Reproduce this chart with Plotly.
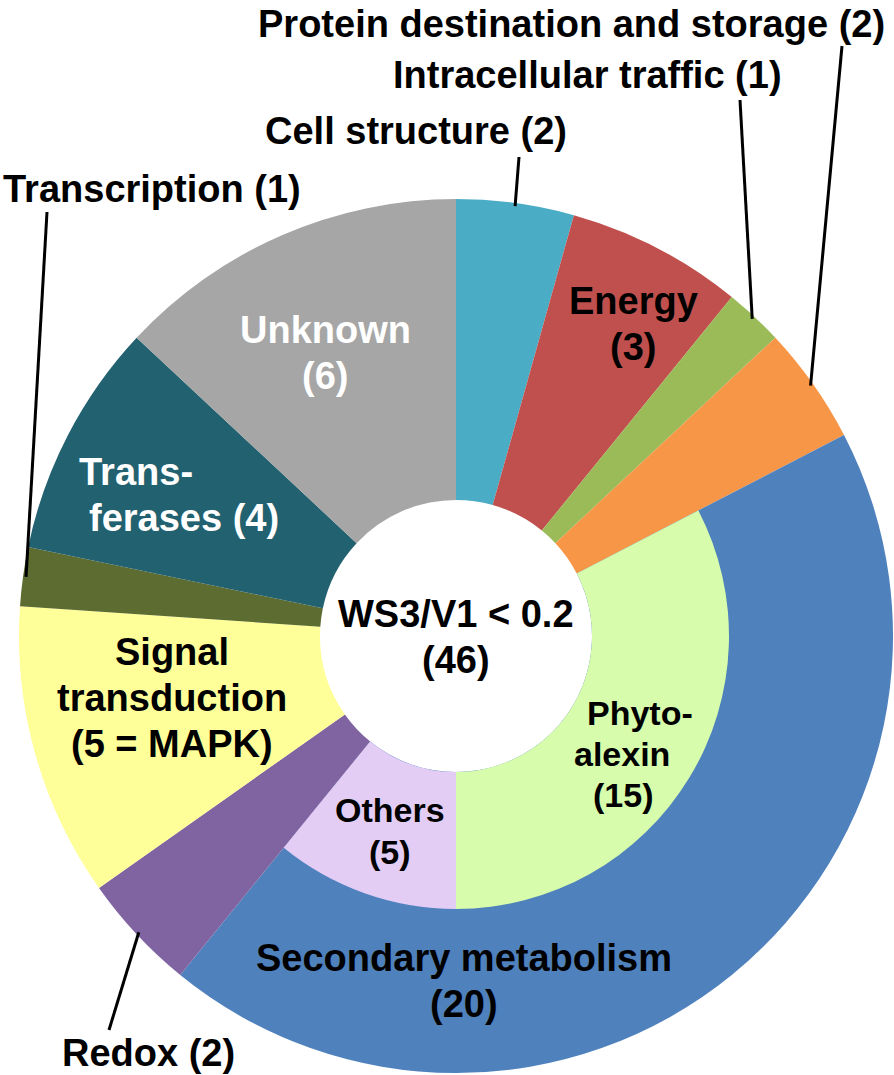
import math
import plotly.graph_objects as go

# outer ring: functional categories, clockwise from 12 o'clock
categories = ['Cell structure', 'Energy', 'Intracellular traffic',
              'Protein destination and storage', 'Secondary metabolism',
              'Redox', 'Signal transduction', 'Transcription',
              'Transferases', 'Unknown']
counts = [2, 3, 1, 2, 20, 2, 5, 1, 4, 6]
colors = ['#4BACC6', '#C0504D', '#9BBB59', '#F79646', '#4F81BD',
          '#8064A2', '#FFFF99', '#5D6C31', '#22616F', '#A6A6A6']

# inner ring: split of secondary metabolism
sub_categories = ['Phytoalexin', 'Others']
sub_counts = [15, 5]
sub_colors = ['#D7FCAB', '#E3CDF5']

W, H = 894, 1075
CX, CY = 456, 636          # pie centre in pixels
R_OUT, R_MID, R_HOLE = 437, 273, 136
FONT = 'Liberation Sans, Arial, sans-serif'
total = sum(counts)
sec = categories.index('Secondary metabolism')


def px(x, y):
    return x / W, 1 - y / H


def domain(r):
    return dict(x=[(CX - r) / W, (CX + r) / W],
                y=[1 - (CY + r) / H, 1 - (CY - r) / H])


def edge_point(i, r):
    cum = sum(counts[:i]) + counts[i] / 2
    th = 2 * math.pi * cum / total
    return CX + r * math.sin(th), CY - r * math.cos(th)


fig = go.Figure()
fig.add_trace(go.Pie(
    labels=categories, values=counts, sort=False, direction='clockwise',
    rotation=0, hole=R_HOLE / R_OUT, textinfo='none', showlegend=False,
    marker=dict(colors=colors, line=dict(width=0)), domain=domain(R_OUT),
))

before = sum(counts[:sec])
after = total - before - counts[sec]
fig.add_trace(go.Pie(
    labels=['_before'] + sub_categories + ['_after'],
    values=[before] + sub_counts + [after], sort=False,
    direction='clockwise', rotation=0, hole=R_HOLE / R_MID,
    textinfo='none', showlegend=False,
    marker=dict(colors=['rgba(0,0,0,0)'] + sub_colors + ['rgba(0,0,0,0)'],
                line=dict(width=0)),
    domain=domain(R_MID),
))

annotations = []


def label(lines, xs, y0, color='black', step=46, size=38):
    if not isinstance(xs, list):
        xs = [xs] * len(lines)
    for k, (t, x) in enumerate(zip(lines, xs)):
        ax, ay = px(x, y0 + k * step)
        annotations.append(dict(
            text='<b>%s</b>' % t, x=ax, y=ay, xref='paper', yref='paper',
            xanchor='center', yanchor='middle', showarrow=False,
            font=dict(family=FONT, size=size, color=color)))


# labels inside the ring
label(['Energy', '(3)'], 633, 301)
label(['Unknown', '(6)'], 325, 330, color='white')
label(['Trans-', 'ferases (4)'], [136, 184], 472, color='white')
label(['Signal', 'transduction', '(5 = MAPK)'], 172, 652)
label(['Secondary metabolism', '(20)'], 464, 958)
label(['Phyto-', 'alexin', '(15)'], [640, 622, 623], 713, step=41, size=34)
label(['Others', '(5)'], 390, 810, step=42, size=34)
label(['WS3/V1 < 0.2', '(46)'], 456, 614)

# labels outside with leader lines: (category, text centre, line start)
outside = [
    ('Cell structure', (416, 131), (519, 157)),
    ('Intracellular traffic', (587, 75), (740, 100)),
    ('Protein destination and storage', (571, 24), (842, 46)),
    ('Transcription', (152, 189), (47, 212)),
    ('Redox', (148, 1053), (109, 1030)),
]
shapes = []
for name, (tx, ty), (lx, ly) in outside:
    i = categories.index(name)
    label(['%s (%d)' % (name, counts[i])], tx, ty)
    ex, ey = edge_point(i, R_OUT - 3)
    x0, y0 = px(lx, ly)
    x1, y1 = px(ex, ey)
    shapes.append(dict(type='line', xref='paper', yref='paper',
                       x0=x0, y0=y0, x1=x1, y1=y1,
                       line=dict(color='black', width=3)))

fig.update_layout(
    width=W, height=H,
    margin=dict(l=0, r=0, t=0, b=0),
    paper_bgcolor='white', plot_bgcolor='white',
    annotations=annotations, shapes=shapes,
    font=dict(family=FONT),
)

# the page body has a default 8px margin; drop it so the figure fills the window
fig.write_html('out.html', config={'displayModeBar': False},
               post_script="document.body.style.margin='0';")
